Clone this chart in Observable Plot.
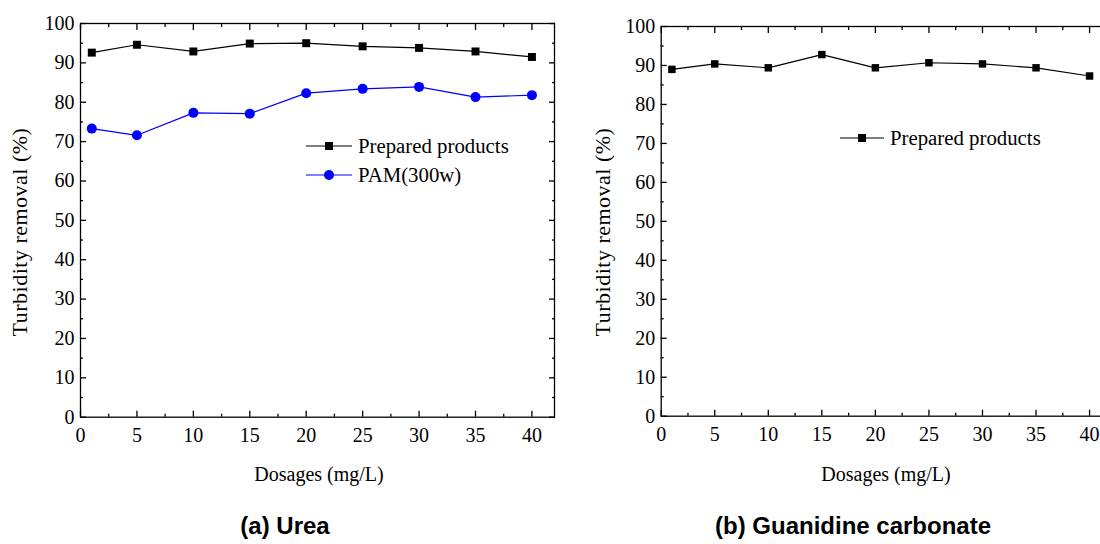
<!DOCTYPE html>
<html><head><meta charset="utf-8">
<script src="https://cdn.jsdelivr.net/npm/d3@7"></script>
<script src="https://cdn.jsdelivr.net/npm/@observablehq/plot@0.6"></script>
<style>
html,body{margin:0;padding:0;background:#fff;overflow:hidden}
#wrap{position:relative;width:1100px;height:544px;overflow:hidden;font-family:"Liberation Serif","Times New Roman",serif;color:#000}
.abs{position:absolute;white-space:nowrap;line-height:1}
.c{transform:translate(-50%,-50%)}
.rot{transform:translate(-50%,-50%) rotate(-90deg)}
.cap{font-family:"Liberation Sans",Arial,sans-serif;font-weight:bold;font-size:24px}
.lab{font-size:20px}
.ylab{font-size:22px;letter-spacing:0.5px}
</style></head>
<body><div id="wrap"></div>
<script>
// ---- data ----
const dosages = [1, 5, 10, 15, 20, 25, 30, 35, 40];
const ureaPrepared = [92.6, 94.6, 92.9, 94.9, 95.0, 94.2, 93.8, 92.9, 91.5];
const ureaPAM = [73.3, 71.6, 77.3, 77.1, 82.3, 83.4, 83.9, 81.3, 81.8];
const guanPrepared = [89.0, 90.4, 89.4, 92.8, 89.4, 90.7, 90.4, 89.4, 87.3];
const xMajor = [0, 5, 10, 15, 20, 25, 30, 35, 40];
const xMinor = [2.5, 7.5, 12.5, 17.5, 22.5, 27.5, 32.5, 37.5];
const yMajor = [0, 10, 20, 30, 40, 50, 60, 70, 80, 90, 100];
const yMinor = [5, 15, 25, 35, 45, 55, 65, 75, 85, 95];
const seriesNames = ["Prepared products", "PAM(300w)"];
const xTitle = "Dosages (mg/L)";
const yTitle = "Turbidity removal (%)";
const captions = ["(a) Urea", "(b) Guanidine carbonate"];

const wrap = document.getElementById("wrap");
const FONT = "Liberation Serif, Times New Roman, serif";

function rows(vals) { return dosages.map((d, i) => ({x: d, y: vals[i]})); }

function panel(o) {
  const sw = 1.3;
  const tick = (axis, data, anchor, size) => axis(data, {
    anchor, tickSize: size, fill: "none", label: null, strokeWidth: sw,
    ...(anchor === "bottom" ? {dy: -size} : anchor === "top" ? {dy: size} : anchor === "left" ? {dx: size} : {dx: -size})
  });
  const marks = [
    Plot.frame({stroke: "black", strokeWidth: sw}),
    tick(Plot.axisX, xMajor, "bottom", 6), tick(Plot.axisX, xMinor, "bottom", 3),
    tick(Plot.axisX, xMajor, "top", 6), tick(Plot.axisX, xMinor, "top", 3),
    tick(Plot.axisY, yMajor, "left", 6), tick(Plot.axisY, yMinor, "left", 3),
    tick(Plot.axisY, yMajor, "right", 6), tick(Plot.axisY, yMinor, "right", 3),
    Plot.axisX(xMajor, {anchor: "bottom", tickSize: 0, tickPadding: 11, fontSize: 20, label: null, fill: "black"}),
    Plot.axisY(yMajor, {anchor: "left", tickSize: 0, tickPadding: 6, fontSize: 20, label: null, fill: "black"})
  ];
  for (const s of o.series) {
    marks.push(Plot.line(rows(s.values), {x: "x", y: "y", stroke: s.color, strokeWidth: 1.2}));
    marks.push(Plot.dot(rows(s.values), {x: "x", y: "y", symbol: s.symbol, r: s.r, fill: s.color, stroke: "none"}));
  }
  const svg = Plot.plot({
    width: o.width, height: o.height,
    marginLeft: o.ml, marginRight: o.mr, marginTop: o.mt, marginBottom: o.mb,
    style: {fontFamily: FONT, fontSize: "20px", background: "transparent", color: "black", overflow: "visible"},
    x: {domain: [0, 42]},
    y: {domain: [0, 100]},
    marks
  });
  svg.style.position = "absolute";
  svg.style.left = o.left + "px";
  svg.style.top = "0px";
  wrap.appendChild(svg);
}

panel({left: 0, width: 580, height: 440, ml: 80, mr: 26, mt: 23, mb: 23.3,
  series: [
    {values: ureaPrepared, color: "black", symbol: "square", r: 4.5},
    {values: ureaPAM, color: "#0000ff", symbol: "circle", r: 5}
  ]});
panel({left: 580, width: 541, height: 440, ml: 80.7, mr: 10.5, mt: 26, mb: 24.3,
  series: [
    {values: guanPrepared, color: "black", symbol: "square", r: 4.2}
  ]});

function addText(txt, x, y, cls) {
  const d = document.createElement("div");
  d.className = "abs " + cls;
  d.style.left = x + "px"; d.style.top = y + "px";
  d.textContent = txt;
  wrap.appendChild(d);
}
addText(xTitle, 319, 474, "c lab");
addText(xTitle, 886, 474, "c lab");
addText(yTitle, 20, 232, "rot ylab");
addText(yTitle, 603, 232, "rot ylab");
addText(captions[0], 285, 526, "c cap");
addText(captions[1], 853, 526, "c cap");

// legends
const ns = "http://www.w3.org/2000/svg";
const ov = document.createElementNS(ns, "svg");
ov.setAttribute("width", 1100); ov.setAttribute("height", 544);
ov.style.position = "absolute"; ov.style.left = "0"; ov.style.top = "0";
wrap.appendChild(ov);
function legendItem(x0, x1, y, color, symbol, name) {
  const l = document.createElementNS(ns, "line");
  l.setAttribute("x1", x0); l.setAttribute("x2", x1); l.setAttribute("y1", y); l.setAttribute("y2", y);
  l.setAttribute("stroke", color); l.setAttribute("stroke-width", 1.2);
  ov.appendChild(l);
  const cx = (x0 + x1) / 2;
  let m;
  if (symbol === "square") {
    m = document.createElementNS(ns, "rect");
    m.setAttribute("x", cx - 4); m.setAttribute("y", y - 4); m.setAttribute("width", 8); m.setAttribute("height", 8);
  } else {
    m = document.createElementNS(ns, "circle");
    m.setAttribute("cx", cx); m.setAttribute("cy", y); m.setAttribute("r", 5);
  }
  m.setAttribute("fill", color);
  ov.appendChild(m);
  const t = document.createElementNS(ns, "text");
  t.setAttribute("x", x1 + 6); t.setAttribute("y", y); t.setAttribute("dy", "0.33em");
  t.setAttribute("font-family", FONT); t.setAttribute("font-size", 20.8);
  t.textContent = name;
  ov.appendChild(t);
}
legendItem(306, 352, 146, "black", "square", seriesNames[0]);
legendItem(306, 352, 175, "#0000ff", "circle", seriesNames[1]);
legendItem(840, 884, 138, "black", "square", seriesNames[0]);
</script>
</body></html>
